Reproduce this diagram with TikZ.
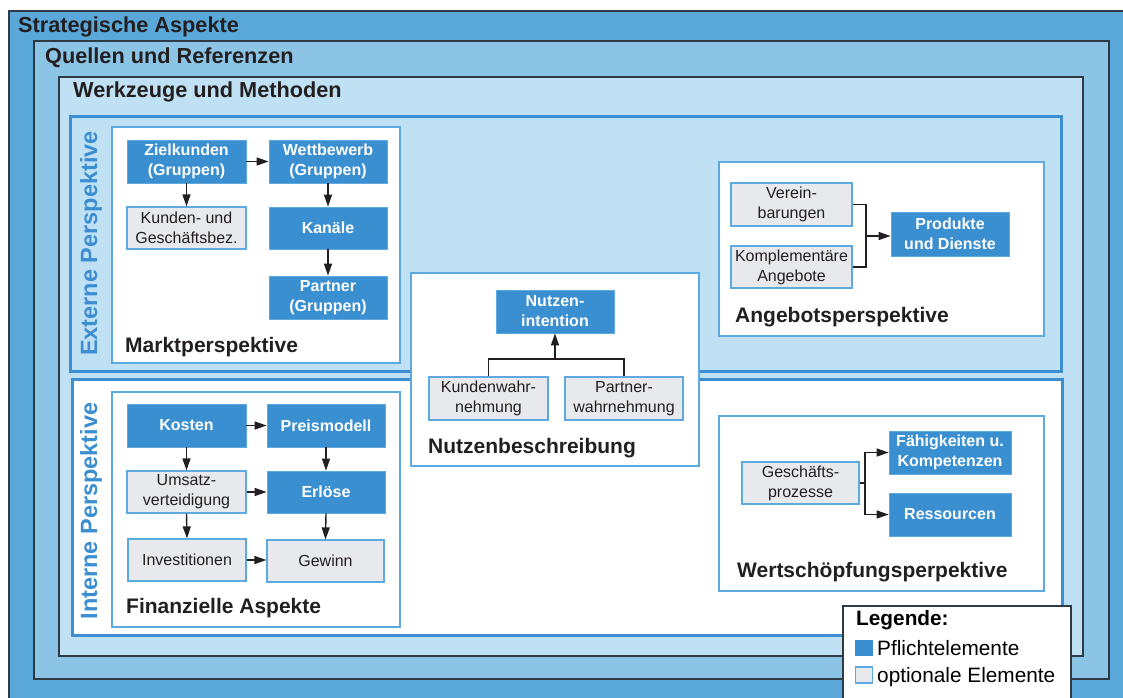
\documentclass[tikz,border=0pt]{standalone}
\usepackage{fontspec}
\setmainfont{Liberation Sans}
\usetikzlibrary{arrows.meta}
\definecolor{cStrat}{HTML}{5AA8DA}
\definecolor{cQuel}{HTML}{8CC4E5}
\definecolor{cWerk}{HTML}{C0E1F4}
\definecolor{cBlue}{HTML}{3A8FD0}
\definecolor{cPersp}{HTML}{3C8ED2}
\definecolor{cThin}{HTML}{5DAAE0}
\definecolor{cGrey}{HTML}{E8E9EC}
\definecolor{cDark}{HTML}{2E3B46}
\definecolor{cText}{HTML}{231F20}
\tikzset{
  layerbox/.style={draw=cDark, line width=1.5pt},
  perspbox/.style={draw=cPersp, line width=3pt},
  subbox/.style={draw=cThin, line width=1.3pt, fill=white},
  elem/.style={align=center, inner sep=0pt, minimum width=119pt, minimum height=43pt, font=\fontsize{16}{20}\selectfont},
  req/.style={elem, fill=cBlue, draw=cThin, line width=0.8pt, text=white, font=\fontsize{16}{20}\selectfont\bfseries},
  opt/.style={elem, fill=cGrey, draw=cThin, line width=1.2pt, text=cText},
  titletext/.style={anchor=base west, font=\fontsize{21.7}{26}\selectfont\bfseries, text=cText, inner sep=0pt},
  boxlabel/.style={anchor=base west, font=\fontsize{21}{25}\selectfont\bfseries, text=cText, inner sep=0pt},
  verttext/.style={rotate=90, anchor=base, font=\fontsize{23.5}{28}\selectfont\bfseries, text=cPersp, inner sep=0pt},
  legtext/.style={anchor=base west, font=\fontsize{20.8}{25}\selectfont, text=black, inner sep=0pt},
  conn/.style={line width=1.4pt, draw=cText},
  arr/.style={conn, -{Triangle[length=12pt,width=8pt]}},
}
\begin{document}
\begin{tikzpicture}[x=1pt,y=-1pt]
\useasboundingbox (0,0) rectangle (1123,697);
\clip (0,0) rectangle (1123,697);
\fill[white] (0,0) rectangle (1123,697);
% layers
\filldraw[layerbox, fill=cStrat] (9,11) rectangle (1135,710);
\filldraw[layerbox, fill=cQuel] (34,41) rectangle (1109,679);
\filldraw[layerbox, fill=cWerk] (59,77) rectangle (1083,656);
\node[titletext] (t1) at (18,32) {Strategische Aspekte};
\node[titletext] (t2) at (45,63) {Quellen und Referenzen};
\node[titletext] (t3) at (73,97) {Werkzeuge und Methoden};
% perspectives
\draw[perspbox] (70,116) rectangle (1061,371);
\filldraw[perspbox, fill=white] (72,379) rectangle (1062,635);
\node[verttext] (ext) at (97,243.5) {Externe Perspektive};
\node[verttext] (int) at (97,511) {Interne Perspektive};
% sub boxes
\draw[subbox] (112,127) rectangle (400,363);
\draw[subbox] (719,162) rectangle (1044,336);
\draw[subbox] (112,392) rectangle (400,627);
\draw[subbox] (719,416) rectangle (1044,591);
\draw[subbox] (411,273) rectangle (699,466);
\node[boxlabel] (lm) at (125,352) {Marktperspektive};
\node[boxlabel] (la) at (735,322) {Angebotsperspektive};
\node[boxlabel] (lf) at (126,613) {Finanzielle Aspekte};
\node[boxlabel] (lw) at (737,577) {Wertschöpfungsperpektive};
\node[boxlabel] (ln) at (428,453) {Nutzenbeschreibung};
% Marktperspektive
\node[req] (zk) at (186.5,161.5) {Zielkunden\\(Gruppen)};
\node[req, minimum width=118pt] (wb) at (328,161.5) {Wettbewerb\\(Gruppen)};
\node[opt, minimum height=42pt] (kb) at (186.5,228) {Kunden- und\\Geschäftsbez.};
\node[req, minimum width=118pt, minimum height=42pt] (kan) at (328,228) {Kanäle};
\node[req, minimum width=118pt] (pa) at (328,297.5) {Partner\\(Gruppen)};
\draw[arr] (zk.east) -- (wb.west);
\draw[arr] (zk.south) -- (kb.north);
\draw[arr] (wb.south) -- (kan.north);
\draw[arr] (kan.south) -- (pa.north);
% Nutzenbeschreibung
\node[req, minimum width=118pt] (ni) at (555,311.5) {Nutzen-\\intention};
\node[opt] (kw) at (488.5,398.5) {Kundenwahr-\\nehmung};
\node[opt, minimum width=118pt] (pw) at (624,398.5) {Partner-\\wahrnehmung};
\coordinate (nj) at (555,359);
\draw[conn] (kw.north) |- (nj) -| (pw.north);
\draw[arr] (nj) -- (ni.south);
% Angebotsperspektive
\node[opt, minimum width=121pt] (ve) at (791.5,204.5) {Verein-\\barungen};
\node[opt, minimum width=121pt, minimum height=42pt] (ko) at (791.5,267) {Komplementäre\\Angebote};
\node[req, minimum width=118pt, minimum height=44pt] (pd) at (950,234) {Produkte\\und Dienste};
\coordinate (aj) at (866,236);
\draw[conn] (ve.east) -- (ve.east -| aj) -- (ko.east -| aj) -- (ko.east);
\draw[arr] (aj) -- (aj -| pd.west);
% Finanzielle Aspekte
\node[req] (kos) at (186.5,425.5) {Kosten};
\node[req, minimum width=118pt] (pm) at (326,425.5) {Preismodell};
\node[opt, minimum height=42pt] (um) at (186.5,492) {Umsatz-\\verteidigung};
\node[req, minimum width=118pt, minimum height=42pt] (er) at (326,492) {Erlöse};
\node[opt, minimum width=118pt, minimum height=42pt] (inv) at (187,560) {Investitionen};
\node[opt, minimum width=117pt, minimum height=42pt] (gw) at (325.5,561) {Gewinn};
\draw[arr] (kos.east) -- (pm.west);
\draw[arr] (kos.south) -- (um.north);
\draw[arr] (pm.south) -- (er.north);
\draw[arr] (um.east) -- (er.west);
\draw[arr] (um.south) -- (inv.north);
\draw[arr] (er.south) -- (gw.north);
\draw[arr] (inv.east) -- (inv.east -| gw.west);
% Wertschoepfung
\node[opt, minimum width=117pt, minimum height=42pt] (gp) at (800.5,483) {Geschäfts-\\prozesse};
\node[req, minimum width=122pt] (fk) at (950,452.5) {Fähigkeiten u.\\Kompetenzen};
\node[req, minimum width=122pt] (rs) at (950,514.5) {Ressourcen};
\coordinate (wj) at (865,483);
\draw[conn] (gp.east) -- (wj);
\draw[arr] (wj) |- (fk.west);
\draw[arr] (wj) |- (rs.west);
% Legend
\filldraw[layerbox, fill=white] (843,606) rectangle (1071,710);
\node[legtext, font=\fontsize{20.8}{25}\selectfont\bfseries] (lg) at (856,625) {Legende:};
\node[fill=cBlue, minimum width=18pt, minimum height=16pt, inner sep=0pt] (sq1) at (864,648) {};
\node[fill=cGrey, draw=cThin, line width=1.2pt, minimum width=17pt, minimum height=16pt, inner sep=0pt] (sq2) at (864,675) {};
\node[legtext] (lp) at (877,655) {Pflichtelemente};
\node[legtext] (lo) at (877,682) {optionale Elemente};
\end{tikzpicture}
\end{document}
